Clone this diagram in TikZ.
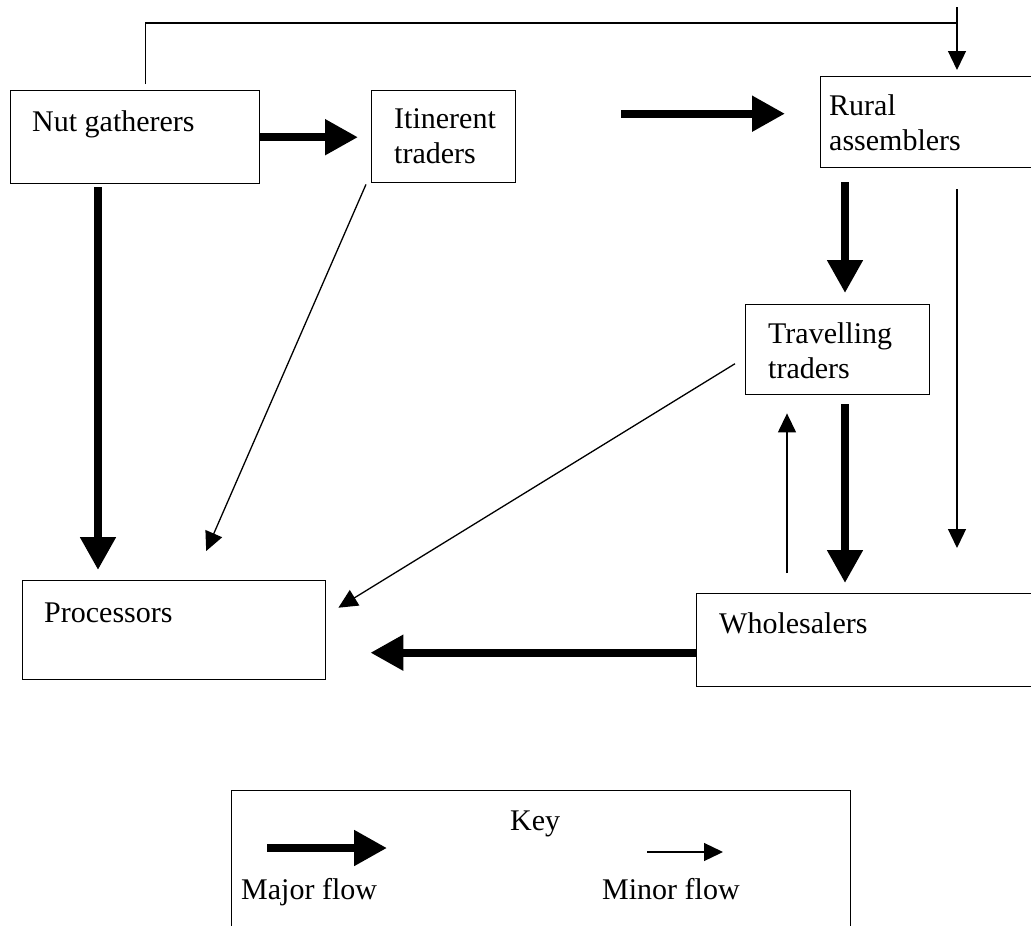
\documentclass[tikz,border=0pt]{standalone}
\usepackage{fontspec}
\setmainfont{Liberation Serif}
\usetikzlibrary{arrows.meta,positioning}

\begin{document}
\begin{tikzpicture}[x=1bp,y=-1bp,
  box/.style={draw,line width=1.4bp,inner sep=0pt,anchor=north west},
  lbl/.style={anchor=base west,inner sep=0pt,align=left,font=\fontsize{30bp}{35bp}\selectfont},
  major/.style={line width=8bp,-{Triangle[length=33bp,width=34bp]}},
  minor/.style={line width=1.3bp,-{Triangle[length=19bp,width=18bp]}},
  link/.style={line width=1.3bp}]
\useasboundingbox (0,0) rectangle (1031,926);
%% boxes
\node[box,minimum width=249bp,minimum height=93bp] (ng) at (10,90) {};
\node[box,minimum width=144bp,minimum height=92bp] (it) at (371,90) {};
\node[box,minimum width=215bp,minimum height=91bp] (ra) at (820,76) {};
\node[box,minimum width=184bp,minimum height=90bp] (tt) at (745,304) {};
\node[box,minimum width=303bp,minimum height=99bp] (pr) at (22,580) {};
\node[box,minimum width=340bp,minimum height=93bp] (wh) at (696,593) {};
\node[lbl] (ng-t) at ([shift={(22,41)}]ng.north west) {Nut gatherers};
\node[lbl] (it-t) at ([shift={(23,73)}]it.north west) {Itinerent\\traders};
\node[lbl] (ra-t) at ([shift={(9,74)}]ra.north west) {Rural\\assemblers};
\node[lbl] (tt-t) at ([shift={(23,74)}]tt.north west) {Travelling\\traders};
\node[lbl] (pr-t) at ([shift={(22,42)}]pr.north west) {Processors};
\node[lbl] (wh-t) at ([shift={(23,40)}]wh.north west) {Wholesalers};
%% flows
\coordinate (fb) at (957,7);
\draw[link] ([shift={(10.5,-6)}]ng.north) |- (fb |- 0,23);
\draw[minor,shorten >=6bp] (fb) -- (fb |- ra.north);
\draw[major,shorten >=13bp] (ng.east) -- (ng.east -| it.west);
\draw[major,shorten <=105bp,shorten >=35bp] ([yshift=23bp]it.east) -- ([yshift=23bp]it.east -| ra.west);
\draw[major,shorten <=3bp,shorten >=10bp] (ng.south -| 98,0) -- (pr.north -| 98,0);
\draw[minor] ([shift={(-5,1)}]it.south west) -- ([shift={(32,-29)}]pr.north);
\draw[major,shorten <=14bp,shorten >=11bp] (ra.south -| 845,0) -- (tt.north -| 845,0);
\draw[minor,shorten <=21bp,shorten >=45bp] (ra.south -| 957,0) -- (wh.north -| 957,0);
\draw[minor] ([shift={(-10,14)}]tt.west) -- ([shift={(12,-22.5)}]pr.east);
\draw[major,shorten <=9bp,shorten >=10bp] (tt.south -| 845,0) -- (wh.north -| 845,0);
\draw[minor,shorten <=20bp,shorten >=18bp] (wh.north -| 787,0) -- (tt.south -| 787,0);
\coordinate (wh-out) at ([yshift=-12.5bp]wh.west);
\draw[major,shorten >=44bp] (wh-out) -- (wh-out -| pr.east);
%% key
\node[box,minimum width=619bp,minimum height=150bp] (key) at (231,790) {};
\node[lbl] (key-t) at ([shift={(279,40)}]key.north west) {Key};
\coordinate (kmaj) at ([shift={(36,58)}]key.north west);
\coordinate (kmin) at ([shift={(416,62)}]key.north west);
\draw[major] (kmaj) -- ++(120,0);
\draw[minor] (kmin) -- ++(76,0);
\node[lbl] (maj-t) at ([shift={(10,109)}]key.north west) {Major flow};
\node[lbl] (min-t) at ([shift={(371,109)}]key.north west) {Minor flow};
\end{tikzpicture}
\end{document}
